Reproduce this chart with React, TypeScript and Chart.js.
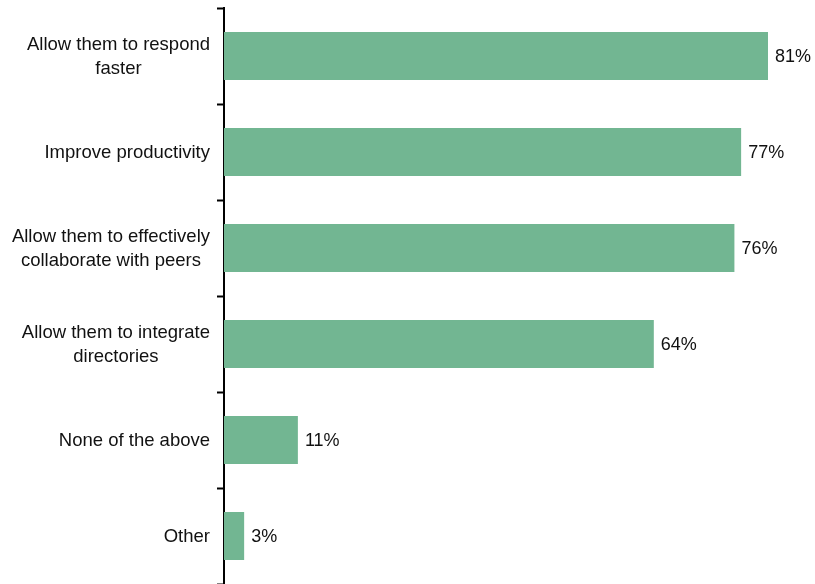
import React, { useEffect, useRef } from "react";
import { Chart, registerables } from "chart.js";

Chart.register(...registerables);

const categories: (string | string[])[] = [
  ["Allow them to respond", "faster"],
  "Improve productivity",
  ["Allow them to effectively", "collaborate with peers"],
  ["Allow them to integrate", "directories"],
  "None of the above",
  "Other",
];
const values = [81, 77, 76, 64, 11, 3];

const FONT = "'Liberation Sans', Arial, sans-serif";

const valueLabels = {
  id: "valueLabels",
  afterDatasetsDraw(chart: any) {
    const ctx = chart.ctx;
    const meta = chart.getDatasetMeta(0);
    ctx.save();
    ctx.font = `18px ${FONT}`;
    ctx.fillStyle = "#111";
    ctx.textAlign = "left";
    ctx.textBaseline = "middle";
    meta.data.forEach((bar: any, i: number) => {
      ctx.fillText(values[i] + "%", bar.x + 7, bar.y + 1);
    });
    // category labels: block right-aligned, lines centered within block
    ctx.font = `18.5px ${FONT}`;
    ctx.textAlign = "center";
    const yScale = chart.scales.y;
    const right = chart.chartArea.left - 14;
    const lh = 24;
    categories.forEach((c, i) => {
      const lines = Array.isArray(c) ? c : [c];
      const w = Math.max(...lines.map((l) => ctx.measureText(l).width));
      const cx = right - w / 2;
      const cy = yScale.getPixelForValue(i);
      lines.forEach((l, j) => {
        ctx.fillText(l, cx, cy + 1 + (j - (lines.length - 1) / 2) * lh);
      });
    });
    ctx.restore();
  },
};

export default function App() {
  const ref = useRef<HTMLCanvasElement>(null);
  useEffect(() => {
    if (!ref.current) return;
    const chart = new Chart(ref.current, {
      type: "bar",
      data: {
        labels: categories,
        datasets: [
          {
            data: values,
            backgroundColor: "#72B692",
            borderWidth: 0,
            barPercentage: 0.5,
            categoryPercentage: 1,
          },
        ],
      },
      options: {
        indexAxis: "y",
        animation: false,
        responsive: false,
        maintainAspectRatio: false,
        layout: { padding: { top: 8, bottom: 0, right: 0, left: 0 } },
        plugins: { legend: { display: false }, tooltip: { enabled: false } },
        scales: {
          x: { display: false, min: 0, max: 88 },
          y: {
            offset: true,
            grid: {
              offset: true,
              drawOnChartArea: false,
              drawTicks: true,
              tickLength: 7,
              tickWidth: 2,
              color: "#000",
            },
            border: { display: true, color: "#000", width: 2 },
            ticks: {
              color: "rgba(0,0,0,0)",
              padding: 6,
              font: { family: FONT, size: 18.5, lineHeight: 1.3 },
              crossAlign: "near",
            },
            afterFit(scale: any) {
              scale.width = 224;
              scale.paddingTop = 0;
              scale.paddingBottom = 0;
            },
          },
        },
      },
      plugins: [valueLabels],
    });
    return () => chart.destroy();
  }, []);
  return (
    <div style={{ position: "fixed", left: 0, top: 0, width: 815, height: 584, background: "#fff" }}>
      <canvas ref={ref} width={815} height={584} />
    </div>
  );
}
